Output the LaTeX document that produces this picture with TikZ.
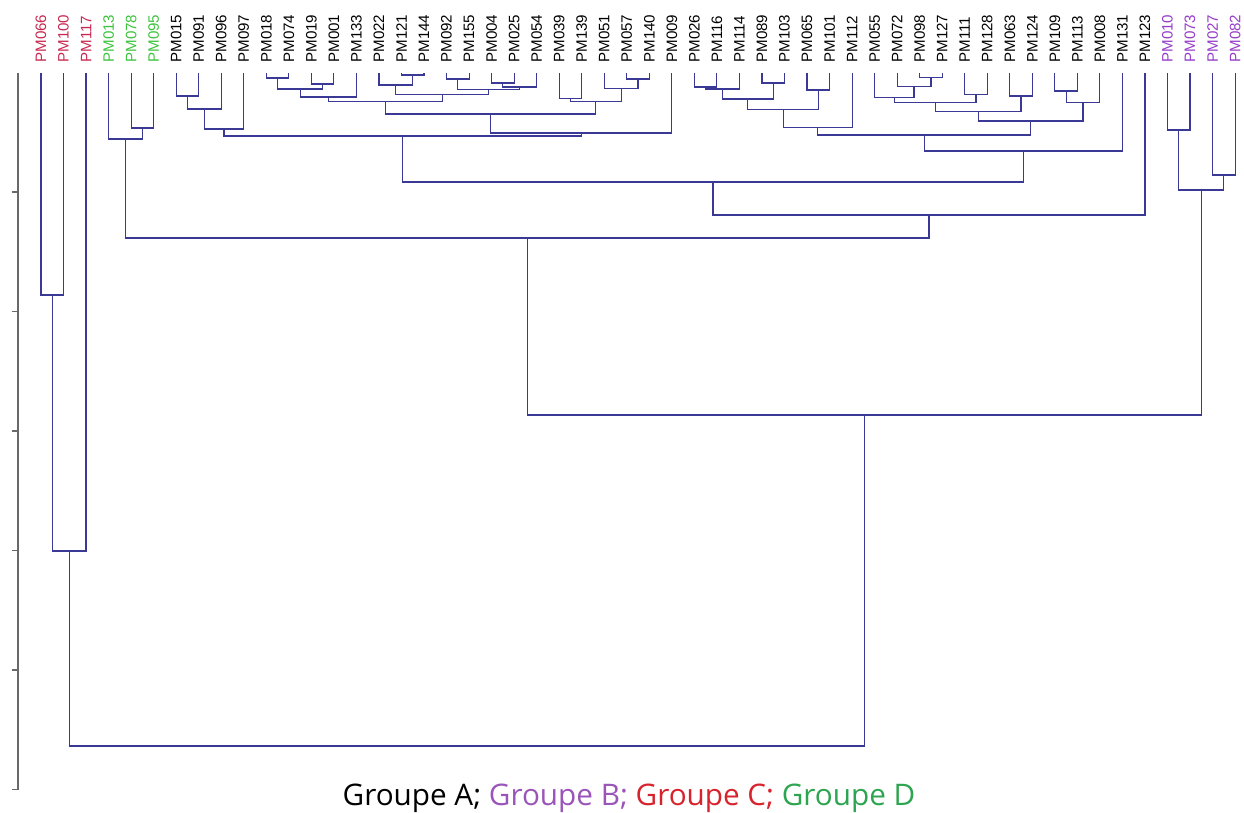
\documentclass[tikz,border=0pt]{standalone}
\usepackage{fontspec}
\setmainfont{Liberation Sans}
\newfontfamily\legendfont{Open Sans}
\usepackage{tikz}
\usetikzlibrary{calc}

\definecolor{linkblue}{RGB}{58,58,150}
\definecolor{axisgray}{RGB}{105,105,105}
\definecolor{labred}{RGB}{200,40,80}
\definecolor{labgreen}{RGB}{60,195,60}
\definecolor{labpurple}{RGB}{150,60,200}
\definecolor{grpB}{RGB}{155,85,185}
\definecolor{grpC}{RGB}{215,35,45}
\definecolor{grpD}{RGB}{45,165,80}

% join two clusters at height #3, new cluster named #4
\newcommand{\joinpair}[4]{%
  \draw[link] (#1) -- (#1 |- 0,#3) -- (#2 |- 0,#3) -- (#2);
  \coordinate (#4) at ($(#1 |- 0,#3)!0.5!(#2 |- 0,#3)$);
}

\begin{document}
\begin{tikzpicture}[
    x=0.02cm, y=-0.02cm,
    link/.style={draw=linkblue, line width=0.65pt},
    axisline/.style={draw=axisgray, line width=0.9pt},
    leaflabel/.style={rotate=90, anchor=west, inner sep=0pt, font=\fontsize{8.6}{10}\selectfont},
    legend/.style={inner sep=0pt, font=\legendfont\fontsize{16.9}{19}\selectfont}
]
\useasboundingbox (0,0) rectangle (1244,813);

% === LEAVES ===
\foreach \name/\col [count=\i from 0] in {PM066/labred, PM100/labred, PM117/labred,
    PM013/labgreen, PM078/labgreen, PM095/labgreen,
    PM015/black, PM091/black, PM096/black, PM097/black, PM018/black, PM074/black,
    PM019/black, PM001/black, PM133/black, PM022/black, PM121/black, PM144/black,
    PM092/black, PM155/black, PM004/black, PM025/black, PM054/black, PM039/black,
    PM139/black, PM051/black, PM057/black, PM140/black, PM009/black, PM026/black,
    PM116/black, PM114/black, PM089/black, PM103/black, PM065/black, PM101/black,
    PM112/black, PM055/black, PM072/black, PM098/black, PM127/black, PM111/black,
    PM128/black, PM063/black, PM124/black, PM109/black, PM113/black, PM008/black,
    PM131/black, PM123/black,
    PM010/labpurple, PM073/labpurple, PM027/labpurple, PM082/labpurple}{
  \coordinate (\name) at ({41+22.53*\i},73);
  \node[leaflabel, text=\col] (lab-\name) at ({41+22.53*\i},63) {\name};
}

% === AXIS ===
\coordinate (axtop) at (18,73);
\coordinate (axbot) at (18,789.5);
\draw[axisline] (axtop) -- (axbot);
\foreach \t in {192,311.5,431,550.5,670,789.5}
  \draw[axisline] (11.5,\t) -- (18,\t);

% === GROUP C ===
\joinpair{PM066}{PM100}{295}{r1}
\joinpair{r1}{PM117}{551}{r2}

% === GROUP D ===
\joinpair{PM078}{PM095}{128}{g1}
\joinpair{PM013}{g1}{139}{g2}

% === GROUP A (left) ===
\joinpair{PM015}{PM091}{96}{a1}
\joinpair{a1}{PM096}{109}{a2}
\joinpair{a2}{PM097}{129}{a3}
\joinpair{PM018}{PM074}{78}{b1}
\joinpair{PM019}{PM001}{84}{b2}
\joinpair{b1}{b2}{89}{b3}
\joinpair{b3}{PM133}{97}{b4}
\joinpair{PM121}{PM144}{75}{c1}
\joinpair{PM022}{c1}{85}{c2}
\joinpair{PM092}{PM155}{79}{c3}
\joinpair{PM004}{PM025}{83}{c4}
\joinpair{c4}{PM054}{87}{c5}
\joinpair{c3}{c5}{89.5}{c6}
\joinpair{c2}{c6}{94.5}{c7}
\joinpair{b4}{c7}{101.5}{b5}
\joinpair{PM039}{PM139}{98.5}{d1}
\joinpair{PM057}{PM140}{79}{d2}
\joinpair{PM051}{d2}{88.5}{d3}
\joinpair{d1}{d3}{101.5}{d4}
\joinpair{b5}{d4}{114}{b6}
\joinpair{b6}{PM009}{133}{b7}
\joinpair{a3}{b7}{136}{a4}

% === GROUP A (right) ===
\joinpair{PM026}{PM116}{87}{e1}
\joinpair{e1}{PM114}{89}{e2}
\joinpair{PM089}{PM103}{83}{e3}
\joinpair{e2}{e3}{99}{e4}
\joinpair{PM065}{PM101}{90}{e5}
\joinpair{e4}{e5}{109.5}{e6}
\joinpair{e6}{PM112}{127.5}{e7}
\joinpair{PM098}{PM127}{77.5}{f1}
\joinpair{PM072}{f1}{86.5}{f2}
\joinpair{PM055}{f2}{97.5}{f3}
\joinpair{PM111}{PM128}{94.5}{f4}
\joinpair{f3}{f4}{102.5}{f5}
\joinpair{PM063}{PM124}{96}{f6}
\joinpair{f5}{f6}{111.5}{f7}
\joinpair{PM109}{PM113}{91}{f8}
\joinpair{f8}{PM008}{102.5}{f9}
\joinpair{f7}{f9}{121}{f10}
\joinpair{e7}{f10}{135}{e8}
\joinpair{e8}{PM131}{151}{e9}
\joinpair{a4}{e9}{182}{h1}
\joinpair{h1}{PM123}{215}{h2}
\joinpair{g2}{h2}{238}{h3}

% === GROUP B ===
\joinpair{PM010}{PM073}{130}{p1}
\joinpair{PM027}{PM082}{175}{p2}
\joinpair{p1}{p2}{190}{p3}

% === TOP LEVELS ===
\joinpair{h3}{p3}{415}{h4}
\joinpair{r2}{h4}{746}{root}

% === LEGEND ===
\node[legend] (legend) at (629,798) {Groupe A; \textcolor{grpB}{Groupe B;} \textcolor{grpC}{Groupe C;} \textcolor{grpD}{Groupe D}};

\end{tikzpicture}
\end{document}
